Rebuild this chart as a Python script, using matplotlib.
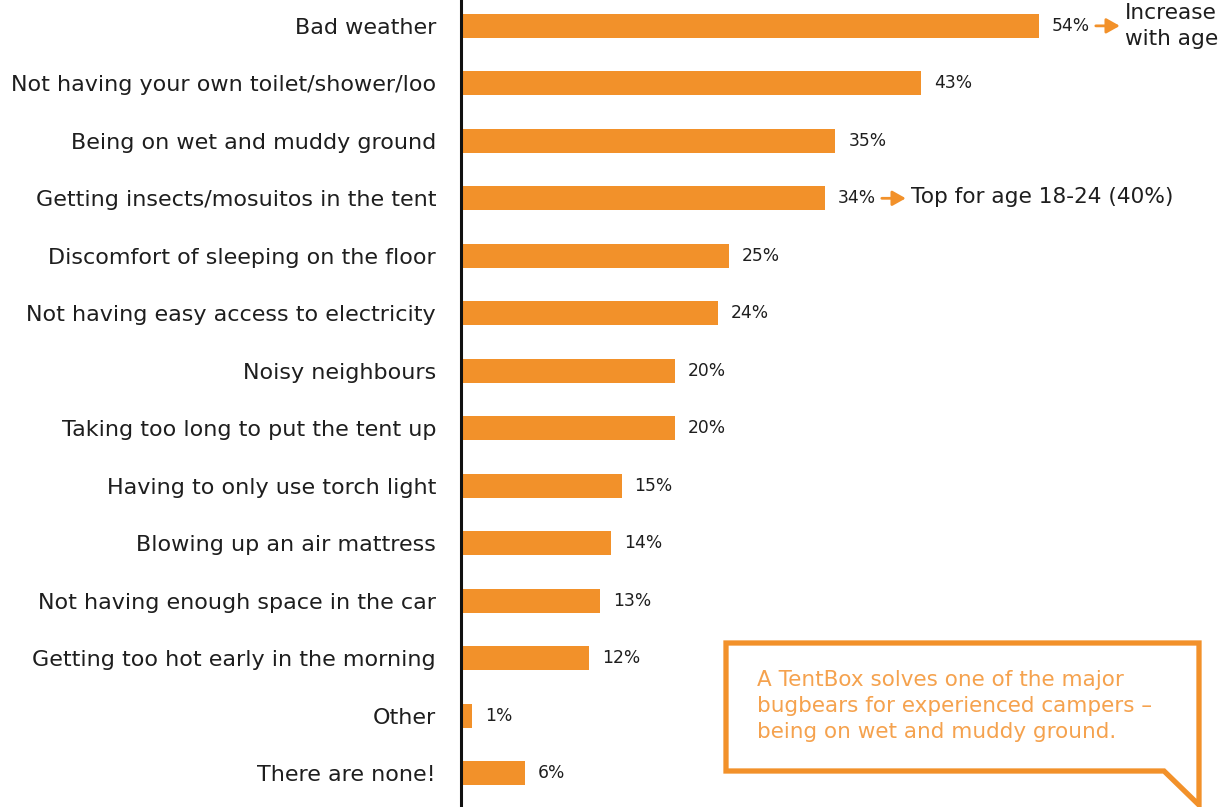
import matplotlib
matplotlib.use("Agg")
import matplotlib.pyplot as plt
from matplotlib.patches import Polygon, FancyArrowPatch

categories = [
    "Bad weather",
    "Not having your own toilet/shower/loo",
    "Being on wet and muddy ground",
    "Getting insects/mosuitos in the tent",
    "Discomfort of sleeping on the floor",
    "Not having easy access to electricity",
    "Noisy neighbours",
    "Taking too long to put the tent up",
    "Having to only use torch light",
    "Blowing up an air mattress",
    "Not having enough space in the car",
    "Getting too hot early in the morning",
    "Other",
    "There are none!",
]
values = [54, 43, 35, 34, 25, 24, 20, 20, 15, 14, 13, 12, 1, 6]

notes = {0: "Increase\nwith age", 3: "Top for age 18-24 (40%)"}
callout_text = ("A TentBox solves one of the major\n"
                "bugbears for experienced campers \u2013\n"
                "being on wet and muddy ground.")

ORANGE = "#F2912A"
TEXT = "#1e1e1e"
FONT = ["DejaVu Sans"]

W, H = 1224, 807
PX = 72 / 100  # points per pixel at 100 dpi
fig = plt.figure(figsize=(W / 100, H / 100), dpi=100)
fig.patch.set_facecolor("white")

ax_left = 461 / W
ax = fig.add_axes([ax_left, 0, 1 - ax_left, 1])
n = len(categories)
ypos = list(range(n))
ax.barh(ypos, values, height=0.42, color=ORANGE, zorder=2)
ax.set_ylim(n - 1 + 0.59, -0.45)
ax.set_xlim(0, (W - 461) / 10.7)

for s in ["top", "right", "bottom"]:
    ax.spines[s].set_visible(False)
ax.spines["left"].set_linewidth(2.2)
ax.spines["left"].set_color("#111111")
ax.set_xticks([])
ax.set_yticks(ypos)
ax.set_yticklabels(categories, fontsize=16, color=TEXT, family=FONT)
ax.tick_params(axis="y", length=0, pad=25 * PX)

for i, v in enumerate(values):
    ax.annotate(f"{v}%", (v, i), xytext=(13 * PX, 0), textcoords="offset points",
                va="center", ha="left", fontsize=12.3, color=TEXT, family=FONT)

# side notes with small arrows
for i, txt in notes.items():
    v = values[i]
    arrow = FancyArrowPatch((v + 57 / 10.7, i), (v + 81 / 10.7, i),
                            arrowstyle="-|>,head_length=8,head_width=4.5",
                            color=ORANGE, lw=2, mutation_scale=1, zorder=3,
                            shrinkA=0, shrinkB=0)
    ax.add_patch(arrow)
    ax.text(v + 86 / 10.7, i - (0.02 if i else 0.0), txt, va="center",
            ha="left", fontsize=15.6, color=TEXT, family=FONT,
            linespacing=1.4)

# speech-bubble callout
def fx(x):
    return x / W

def fy(y):
    return 1 - y / H

bubble = [(726, 643), (1199, 643), (1199, 805), (1164, 771), (726, 771)]
fig.add_artist(Polygon([(fx(x), fy(y)) for x, y in bubble], closed=True,
                       transform=fig.transFigure, facecolor="white",
                       edgecolor=ORANGE, lw=3.8, joinstyle="miter", zorder=5))
fig.text(fx(757), fy(706), callout_text, ha="left", va="center",
         fontsize=15.5, color="#F5A24E", family=FONT,
         linespacing=1.38, zorder=6)

fig.savefig("out.png", dpi=100, facecolor="white")
